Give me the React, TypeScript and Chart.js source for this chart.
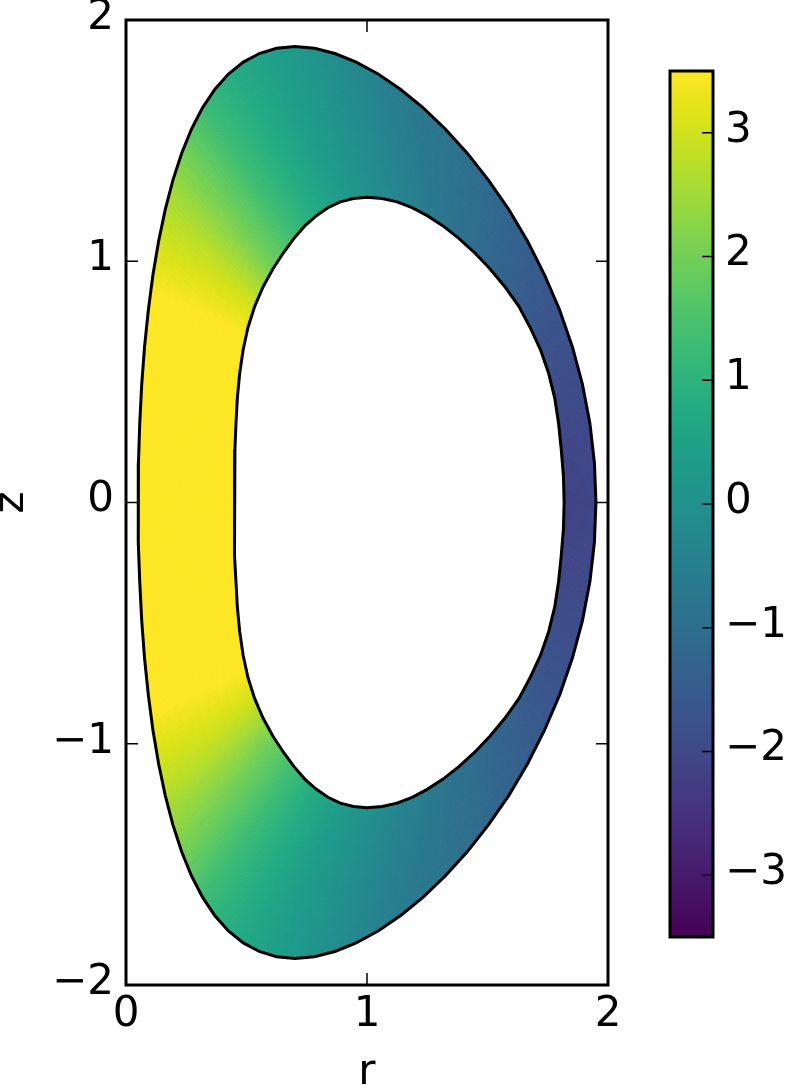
import React, { useEffect, useRef } from "react";
import { Chart, registerables } from "chart.js";

Chart.register(...registerables);

// Boundary nodes of the upper half of the section (every 5 deg of poloidal angle), from the
// outboard midplane (index 0) over the top to the inboard midplane (last index).
// The lower half is the mirror image.
const OUTER_R = [1.95, 1.9437, 1.925, 1.8942, 1.852, 1.799, 1.736, 1.6658, 1.588, 1.5039, 1.416, 1.3247, 1.232, 1.1386, 1.046, 0.9552, 0.867, 0.7821, 0.701, 0.6248, 0.553, 0.4868, 0.425, 0.369, 0.318, 0.2721, 0.231, 0.1947, 0.163, 0.1355, 0.112, 0.0928, 0.077, 0.0652, 0.057, 0.0517, 0.05];
const OUTER_Z = [0, 0.1648, 0.328, 0.4892, 0.646, 0.7987, 0.945, 1.0841, 1.215, 1.3364, 1.448, 1.5483, 1.637, 1.7129, 1.776, 1.8256, 1.861, 1.8828, 1.89, 1.8828, 1.861, 1.8256, 1.776, 1.7129, 1.637, 1.5483, 1.448, 1.3364, 1.215, 1.0841, 0.945, 0.7987, 0.646, 0.4892, 0.328, 0.1648, 0];
const INNER_R = [1.818, 1.815, 1.806, 1.795, 1.779, 1.754, 1.72, 1.677, 1.63, 1.572, 1.51, 1.446, 1.38, 1.3155, 1.25, 1.187, 1.125, 1.063, 1.0, 0.944, 0.889, 0.838, 0.79, 0.742, 0.698, 0.654, 0.61, 0.569, 0.534, 0.506, 0.486, 0.4716, 0.462, 0.4563, 0.452, 0.4497, 0.449];
const INNER_Z = [0, 0.1103, 0.22, 0.3274, 0.433, 0.5346, 0.633, 0.7256, 0.813, 0.8945, 0.969, 1.0362, 1.096, 1.1465, 1.189, 1.2219, 1.246, 1.2602, 1.265, 1.2602, 1.246, 1.2219, 1.189, 1.1465, 1.096, 1.0362, 0.969, 0.8945, 0.813, 0.7256, 0.633, 0.5346, 0.433, 0.3274, 0.22, 0.1103, 0];
// Field value read every 10 deg of poloidal angle (outboard midplane -> top -> inboard midplane)
const OUTER_VAL = [-2.05, -2.0, -1.8, -1.55, -1.25, -0.95, -0.7, -0.45, -0.1, 0.25, 0.55, 0.85, 1.3, 2.05, 2.7, 3.3, 4.2, 4.8, 5.0];
const INNER_VAL = [-2.15, -2.05, -1.9, -1.7, -1.45, -1.15, -0.9, -0.6, -0.3, 0.0, 0.35, 0.75, 1.3, 2.0, 3.0, 3.7, 4.3, 4.8, 5.0];

const X_TICKS = [0, 1, 2];
const Y_TICKS = [-2, -1, 0, 1, 2];
const CB_TICKS = [-3, -2, -1, 0, 1, 2, 3];
const X_RANGE = [0, 2];
const Y_RANGE = [-2, 2];
const CB_MIN = -3.5;
const CB_MAX = 3.5;
const X_LABEL = "r";
const Y_LABEL = "z";

const FONT = "DejaVu Sans";

const VIRIDIS = [
  "#440154", "#471365", "#482475", "#463480", "#414487", "#3b528b", "#355f8d",
  "#2f6c8e", "#2a788e", "#25848e", "#21918c", "#1e9c89", "#22a884", "#2fb47c",
  "#44bf70", "#5ec962", "#7ad151", "#9bd93c", "#bddf26", "#dfe318", "#fde725",
];
const VIR_RGB = VIRIDIS.map((h) => [
  parseInt(h.slice(1, 3), 16),
  parseInt(h.slice(3, 5), 16),
  parseInt(h.slice(5, 7), 16),
]);

function viridis(t: number): string {
  const c = Math.min(1, Math.max(0, t)) * (VIR_RGB.length - 1);
  const i = Math.min(VIR_RGB.length - 2, Math.floor(c));
  const f = c - i;
  const a = VIR_RGB[i];
  const b = VIR_RGB[i + 1];
  return `rgb(${Math.round(a[0] + (b[0] - a[0]) * f)},${Math.round(a[1] + (b[1] - a[1]) * f)},${Math.round(a[2] + (b[2] - a[2]) * f)})`;
}

function closeLoop(r: number[], z: number[]) {
  const pts = r.map((rv, k) => ({ x: rv, y: z[k] }));
  for (let k = r.length - 2; k >= 0; k--) pts.push({ x: r[k], y: -z[k] });
  return pts;
}

// value at a (continuous) position p along the closed geometry loop
function valueAt(vals: number[], p: number, nGeom: number) {
  const half = nGeom - 1;
  const h = p <= half ? p : 2 * half - p;
  const u = (h * (vals.length - 1)) / half;
  const i = Math.min(vals.length - 2, Math.max(0, Math.floor(u)));
  const f = u - i;
  return vals[i] + (vals[i + 1] - vals[i]) * f;
}

const fmt = (v: number) => (v < 0 ? "\u2212" + Math.abs(v) : String(v));

const meshPlugin = {
  id: "meshFill",
  beforeDatasetsDraw(chart: any) {
    const { ctx } = chart;
    const xs = chart.scales.x;
    const ys = chart.scales.y;
    const O = closeLoop(OUTER_R, OUTER_Z);
    const I = closeLoop(INNER_R, INNER_Z);
    const nG = OUTER_R.length;
    const NT = 6;
    const NR = 10;
    ctx.save();
    ctx.lineJoin = "bevel";
    ctx.lineWidth = 1;
    for (let k = 0; k < O.length - 1; k++) {
      const P = (t: number, s: number) => {
        const ox = O[k].x + (O[k + 1].x - O[k].x) * t;
        const oz = O[k].y + (O[k + 1].y - O[k].y) * t;
        const ix = I[k].x + (I[k + 1].x - I[k].x) * t;
        const iz = I[k].y + (I[k + 1].y - I[k].y) * t;
        return [xs.getPixelForValue(ox + (ix - ox) * s), ys.getPixelForValue(oz + (iz - oz) * s)];
      };
      for (let a = 0; a < NT; a++) {
        const t0 = a / NT;
        const t1 = (a + 1) / NT;
        const tv = (t0 + t1) / 2;
        const vo = valueAt(OUTER_VAL, k + tv, nG);
        const vi = valueAt(INNER_VAL, k + tv, nG);
        for (let b = 0; b < NR; b++) {
          const s0 = b / NR;
          const s1 = (b + 1) / NR;
          const sv = (s0 + s1) / 2;
          const v = vo + (vi - vo) * sv;
          const col = viridis((v - CB_MIN) / (CB_MAX - CB_MIN));
          const p1 = P(t0, s0);
          const p2 = P(t1, s0);
          const p3 = P(t1, s1);
          const p4 = P(t0, s1);
          ctx.beginPath();
          ctx.moveTo(p1[0], p1[1]);
          ctx.lineTo(p2[0], p2[1]);
          ctx.lineTo(p3[0], p3[1]);
          ctx.lineTo(p4[0], p4[1]);
          ctx.closePath();
          ctx.fillStyle = col;
          ctx.strokeStyle = col;
          ctx.fill();
          ctx.stroke();
        }
      }
    }
    ctx.restore();
  },
};

const framePlugin = {
  id: "mplFrame",
  afterDraw(chart: any) {
    const { ctx, chartArea } = chart;
    const { left, right, top, bottom } = chartArea;
    const xs = chart.scales.x;
    const ys = chart.scales.y;
    const L = 12;
    ctx.save();
    ctx.strokeStyle = "#000";
    ctx.lineWidth = 1.5;
    ctx.beginPath();
    X_TICKS.forEach((v) => {
      const px = xs.getPixelForValue(v);
      ctx.moveTo(px, bottom);
      ctx.lineTo(px, bottom - L);
      ctx.moveTo(px, top);
      ctx.lineTo(px, top + L);
    });
    Y_TICKS.forEach((v) => {
      const py = ys.getPixelForValue(v);
      ctx.moveTo(left, py);
      ctx.lineTo(left + L, py);
      ctx.moveTo(right, py);
      ctx.lineTo(right - L, py);
    });
    ctx.stroke();
    ctx.lineWidth = 3;
    ctx.strokeRect(left, top, right - left, bottom - top);
    ctx.restore();
  },
};

const cbFramePlugin = {
  id: "cbFrame",
  afterDraw(chart: any) {
    const { ctx, chartArea } = chart;
    const { left, right, top, bottom } = chartArea;
    const ys = chart.scales.y;
    ctx.save();
    ctx.strokeStyle = "#000";
    ctx.lineWidth = 1.5;
    ctx.beginPath();
    CB_TICKS.forEach((v) => {
      const py = ys.getPixelForValue(v);
      ctx.moveTo(right, py);
      ctx.lineTo(right - 11, py);
    });
    ctx.stroke();
    ctx.lineWidth = 3;
    ctx.strokeRect(left, top, right - left, bottom - top);
    ctx.restore();
  },
};

export default function App() {
  const mainRef = useRef<HTMLCanvasElement>(null);
  const cbRef = useRef<HTMLCanvasElement>(null);

  useEffect(() => {
    const outer = closeLoop(OUTER_R, OUTER_Z);
    const inner = closeLoop(INNER_R, INNER_Z);

    const main = new Chart(mainRef.current as HTMLCanvasElement, {
      type: "scatter",
      data: {
        datasets: [
          { data: outer, showLine: true, borderColor: "#000", borderWidth: 3, pointRadius: 0, fill: false, tension: 0 },
          { data: inner, showLine: true, borderColor: "#000", borderWidth: 3, pointRadius: 0, fill: false, tension: 0 },
        ],
      },
      options: {
        animation: false,
        responsive: false,
        devicePixelRatio: 1,
        events: [],
        layout: { padding: { left: 0, top: 20, right: 32, bottom: 0 } },
        plugins: { legend: { display: false }, tooltip: { enabled: false } },
        scales: {
          x: {
            type: "linear",
            min: X_RANGE[0],
            max: X_RANGE[1],
            afterBuildTicks: (s: any) => {
              s.ticks = X_TICKS.map((v) => ({ value: v }));
            },
            afterFit: (s: any) => {
              s.height = 107;
            },
            grid: { display: false, drawTicks: false, tickLength: 0 },
            border: { display: false },
            ticks: {
              color: "#000",
              padding: 5,
              maxRotation: 0,
              autoSkip: false,
              font: { family: FONT, size: 42, lineHeight: 1.2 },
              callback: (v: any) => fmt(Number(v)),
            },
            title: {
              display: true,
              text: X_LABEL,
              color: "#000",
              padding: 0,
              font: { family: FONT, size: 42, lineHeight: 0.88 },
            },
          },
          y: {
            type: "linear",
            min: Y_RANGE[0],
            max: Y_RANGE[1],
            afterBuildTicks: (s: any) => {
              s.ticks = Y_TICKS.map((v) => ({ value: v }));
            },
            afterFit: (s: any) => {
              s.width = 126;
            },
            grid: { display: false, drawTicks: false, tickLength: 0 },
            border: { display: false },
            ticks: {
              color: "#000",
              padding: 12,
              labelOffset: -2,
              autoSkip: false,
              font: { family: FONT, size: 42, lineHeight: 0.3 },
              callback: (v: any) => fmt(Number(v)),
            },
            title: {
              display: true,
              text: Y_LABEL,
              color: "#000",
              padding: 0,
              font: { family: FONT, size: 42, lineHeight: 0.58 },
            },
          },
        },
      },
      plugins: [meshPlugin, framePlugin],
    } as any);

    const cb = new Chart(cbRef.current as HTMLCanvasElement, {
      type: "bar",
      data: {
        labels: [""],
        datasets: [
          {
            data: [[CB_MIN, CB_MAX]],
            borderWidth: 0,
            barPercentage: 1,
            categoryPercentage: 1,
            backgroundColor: (c: any) => {
              const ch = c.chart;
              const ys = ch.scales && ch.scales.y;
              if (!ys || !ch.chartArea) return "#21918c";
              const g = ch.ctx.createLinearGradient(0, ys.getPixelForValue(CB_MIN), 0, ys.getPixelForValue(CB_MAX));
              VIRIDIS.forEach((col, i) => g.addColorStop(i / (VIRIDIS.length - 1), col));
              return g;
            },
          },
        ],
      },
      options: {
        animation: false,
        responsive: false,
        devicePixelRatio: 1,
        events: [],
        layout: { padding: { left: 30, top: 71, right: 0, bottom: 155 } },
        plugins: { legend: { display: false }, tooltip: { enabled: false } },
        scales: {
          x: { display: false },
          y: {
            type: "linear",
            position: "right",
            min: CB_MIN,
            max: CB_MAX,
            afterBuildTicks: (s: any) => {
              s.ticks = CB_TICKS.map((v) => ({ value: v }));
            },
            afterFit: (s: any) => {
              s.width = 77;
            },
            grid: { display: false, drawTicks: false, tickLength: 0 },
            border: { display: false },
            ticks: {
              color: "#000",
              padding: 12,
              labelOffset: -2,
              autoSkip: false,
              font: { family: FONT, size: 42, lineHeight: 0.3 },
              callback: (v: any) => fmt(Number(v)),
            },
          },
        },
      },
      plugins: [cbFramePlugin],
    } as any);

    return () => {
      main.destroy();
      cb.destroy();
    };
  }, []);

  return (
    <div style={{ position: "absolute", left: 0, top: 0, width: 790, height: 1092, background: "#fff" }}>
      <canvas ref={mainRef} width={640} height={1092} style={{ position: "absolute", left: 0, top: 0 }} />
      <canvas ref={cbRef} width={150} height={1092} style={{ position: "absolute", left: 640, top: 0 }} />
    </div>
  );
}
